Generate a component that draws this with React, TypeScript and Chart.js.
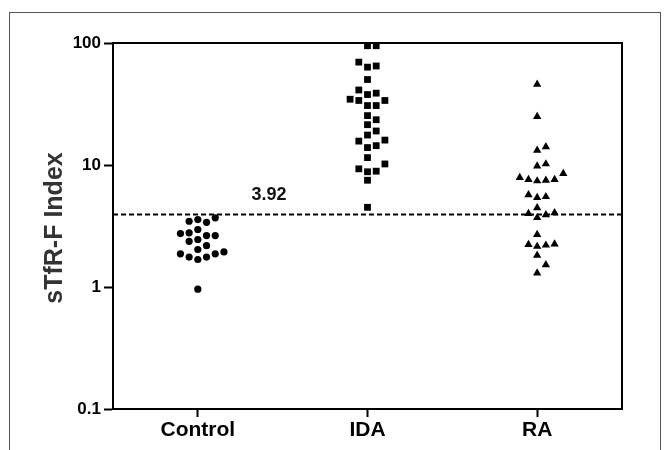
import React, { useEffect, useRef } from "react";
import { Chart, registerables } from "chart.js";

Chart.register(...registerables);

const categories = ["Control", "IDA", "RA"];
const controlValues = [3.69, 3.46, 3.57, 3.39, 2.96, 2.78, 2.64, 2.64, 2.74, 2.45, 2.37, 2.18, 2.03, 1.94, 1.87, 1.76, 1.68, 1.76, 1.87, 0.96];
const idaValues = [95, 95, 69.7, 63.4, 64.8, 50.2, 41.2, 37.8, 38.8, 33.8, 34.6, 33.8, 30.7, 30.7, 25.4, 23.5, 21.4, 19.0, 17.6, 15.7, 16.0, 14.4, 13.9, 11.5, 10.2, 8.8, 9.3, 8.9, 7.5, 4.5];
const raValues = [45.9, 24.9, 14.1, 13.2, 10.2, 9.8, 8.5, 7.6, 7.5, 7.4, 7.6, 7.9, 5.7, 5.4, 5.5, 4.46, 4.05, 3.7, 3.9, 4.0, 2.69, 2.23, 2.15, 2.2, 2.25, 1.82, 1.52, 1.3];
const cutoff = 3.92;
const cutoffLabel = "3.92";
const yTicks = [0.1, 1, 10, 100];
const yTickLabels = ["0.1", "1", "10", "100"];
const yTitle = "sTfR-F Index";

const FONT = '"Liberation Sans", Arial, sans-serif';

function swarmOffsets(yPix: number[], step: number, diam: number): number[] {
  const order = yPix.map((_, i) => i).sort((a, b) => yPix[b] - yPix[a]);
  const placed: { x: number; y: number }[] = [];
  const out = new Array(yPix.length).fill(0);
  for (const i of order) {
    const y = yPix[i];
    let chosen = 0;
    for (let k = 0; k < 40; k++) {
      const c = k === 0 ? 0 : k % 2 === 1 ? (k + 1) / 2 : -k / 2;
      const x = c * step;
      const ok = placed.every((p) => (p.x - x) ** 2 + (p.y - y) ** 2 >= diam * diam - 0.01);
      if (ok) {
        chosen = x;
        break;
      }
    }
    placed.push({ x: chosen, y });
    out[i] = chosen;
  }
  return out;
}

export default function App() {
  const ref = useRef<HTMLCanvasElement | null>(null);

  useEffect(() => {
    const canvas = ref.current!;
    const groups = [controlValues, idaValues, raValues];
    const mk = (vals: number[], idx: number) => vals.map((v) => ({ x: idx, y: v }));

    const framePlugin = {
      id: "frameAndText",
      afterDraw(chart: any) {
        const { ctx, chartArea } = chart;
        const xs = chart.scales.x;
        const ys = chart.scales.y;
        ctx.save();
        ctx.strokeStyle = "#000";
        ctx.lineWidth = 2;
        ctx.strokeRect(chartArea.left, chartArea.top, chartArea.right - chartArea.left, chartArea.bottom - chartArea.top);
        // cutoff label
        ctx.fillStyle = "#111";
        ctx.font = `bold 18px ${FONT}`;
        ctx.textAlign = "center";
        ctx.textBaseline = "alphabetic";
        ctx.fillText(cutoffLabel, xs.getPixelForValue(0.42), ys.getPixelForValue(cutoff) - 15);
        // y title
        ctx.translate(52, (chartArea.top + chartArea.bottom) / 2 + 2);
        ctx.rotate(-Math.PI / 2);
        ctx.fillStyle = "#333";
        ctx.font = `bold 25px ${FONT}`;
        ctx.textAlign = "center";
        ctx.fillText(yTitle, 0, 0);
        ctx.restore();
      },
    };

    const chart = new Chart(canvas, {
      type: "scatter",
      data: {
        datasets: [
          { label: categories[0], data: mk(controlValues, 0), pointStyle: "circle", pointRadius: 3.6, backgroundColor: "#000", borderWidth: 0, clip: false } as any,
          { label: categories[1], data: mk(idaValues, 1), pointStyle: "rect", pointRadius: 4.8, backgroundColor: "#000", borderWidth: 0, clip: false } as any,
          { label: categories[2], data: mk(raValues, 2), pointStyle: "triangle", pointRadius: 4.8, backgroundColor: "#000", borderWidth: 0, clip: false } as any,
          {
            type: "line",
            label: "cutoff",
            data: [
              { x: -0.5, y: cutoff },
              { x: 2.5, y: cutoff },
            ],
            borderColor: "#000",
            borderWidth: 2,
            borderDash: [5, 3],
            pointRadius: 0,
            showLine: true,
            fill: false,
          } as any,
        ],
      },
      options: {
        animation: false,
        responsive: false,
        maintainAspectRatio: false,
        devicePixelRatio: 1,
        layout: { padding: { left: 63, right: 38, top: 30, bottom: 14 } },
        plugins: { legend: { display: false }, tooltip: { enabled: false } },
        scales: {
          x: {
            type: "linear",
            min: -0.5,
            max: 2.5,
            afterFit: (s: any) => {
              s.height = 30;
            },
            afterBuildTicks: (s: any) => {
              s.ticks = [0, 1, 2].map((v) => ({ value: v }));
            },
            ticks: {
              callback: (v: any) => categories[v] ?? "",
              color: "#000",
              font: { family: FONT, size: 21, weight: "bold" },
              padding: 1,
              maxRotation: 0,
              autoSkip: false,
            },
            grid: { display: true, drawOnChartArea: false, drawTicks: true, tickLength: 8, tickWidth: 2, tickColor: "#000" },
            border: { display: true, color: "#000", width: 2 },
          },
          y: {
            type: "logarithmic",
            min: 0.1,
            max: 100,
            afterFit: (s: any) => {
              s.width = 40;
            },
            afterBuildTicks: (s: any) => {
              s.ticks = yTicks.map((v) => ({ value: v }));
            },
            ticks: {
              callback: (v: any) => {
                const i = yTicks.findIndex((t) => Math.abs(t - v) < 1e-9);
                return i >= 0 ? yTickLabels[i] : "";
              },
              color: "#000",
              font: { family: FONT, size: 17, weight: "bold" },
              padding: 3,
              autoSkip: false,
            },
            grid: { display: true, drawOnChartArea: false, drawTicks: true, tickLength: 9, tickWidth: 2, tickColor: "#000" },
            border: { display: true, color: "#000", width: 2 },
          },
        },
      },
      plugins: [framePlugin],
    } as any);

    const xs: any = chart.scales.x;
    const ys: any = chart.scales.y;
    const pxPerUnit = xs.getPixelForValue(1) - xs.getPixelForValue(0);
    groups.forEach((vals, gi) => {
      const yPix = vals.map((v) => ys.getPixelForValue(v));
      const offs = swarmOffsets(yPix, 8.7, 8.4);
      (chart.data.datasets[gi] as any).data = vals.map((v, i) => ({ x: gi + offs[i] / pxPerUnit, y: v }));
    });
    chart.update("none");

    return () => chart.destroy();
  }, []);

  return (
    <div
      style={{
        marginTop: 4,
        marginLeft: 1,
        width: 650,
        height: 440,
        borderTop: "1px solid #555",
        borderLeft: "1px solid #555",
        borderRight: "1px solid #555",
      }}
    >
      <canvas ref={ref} width={650} height={440} style={{ display: "block" }} />
    </div>
  );
}
